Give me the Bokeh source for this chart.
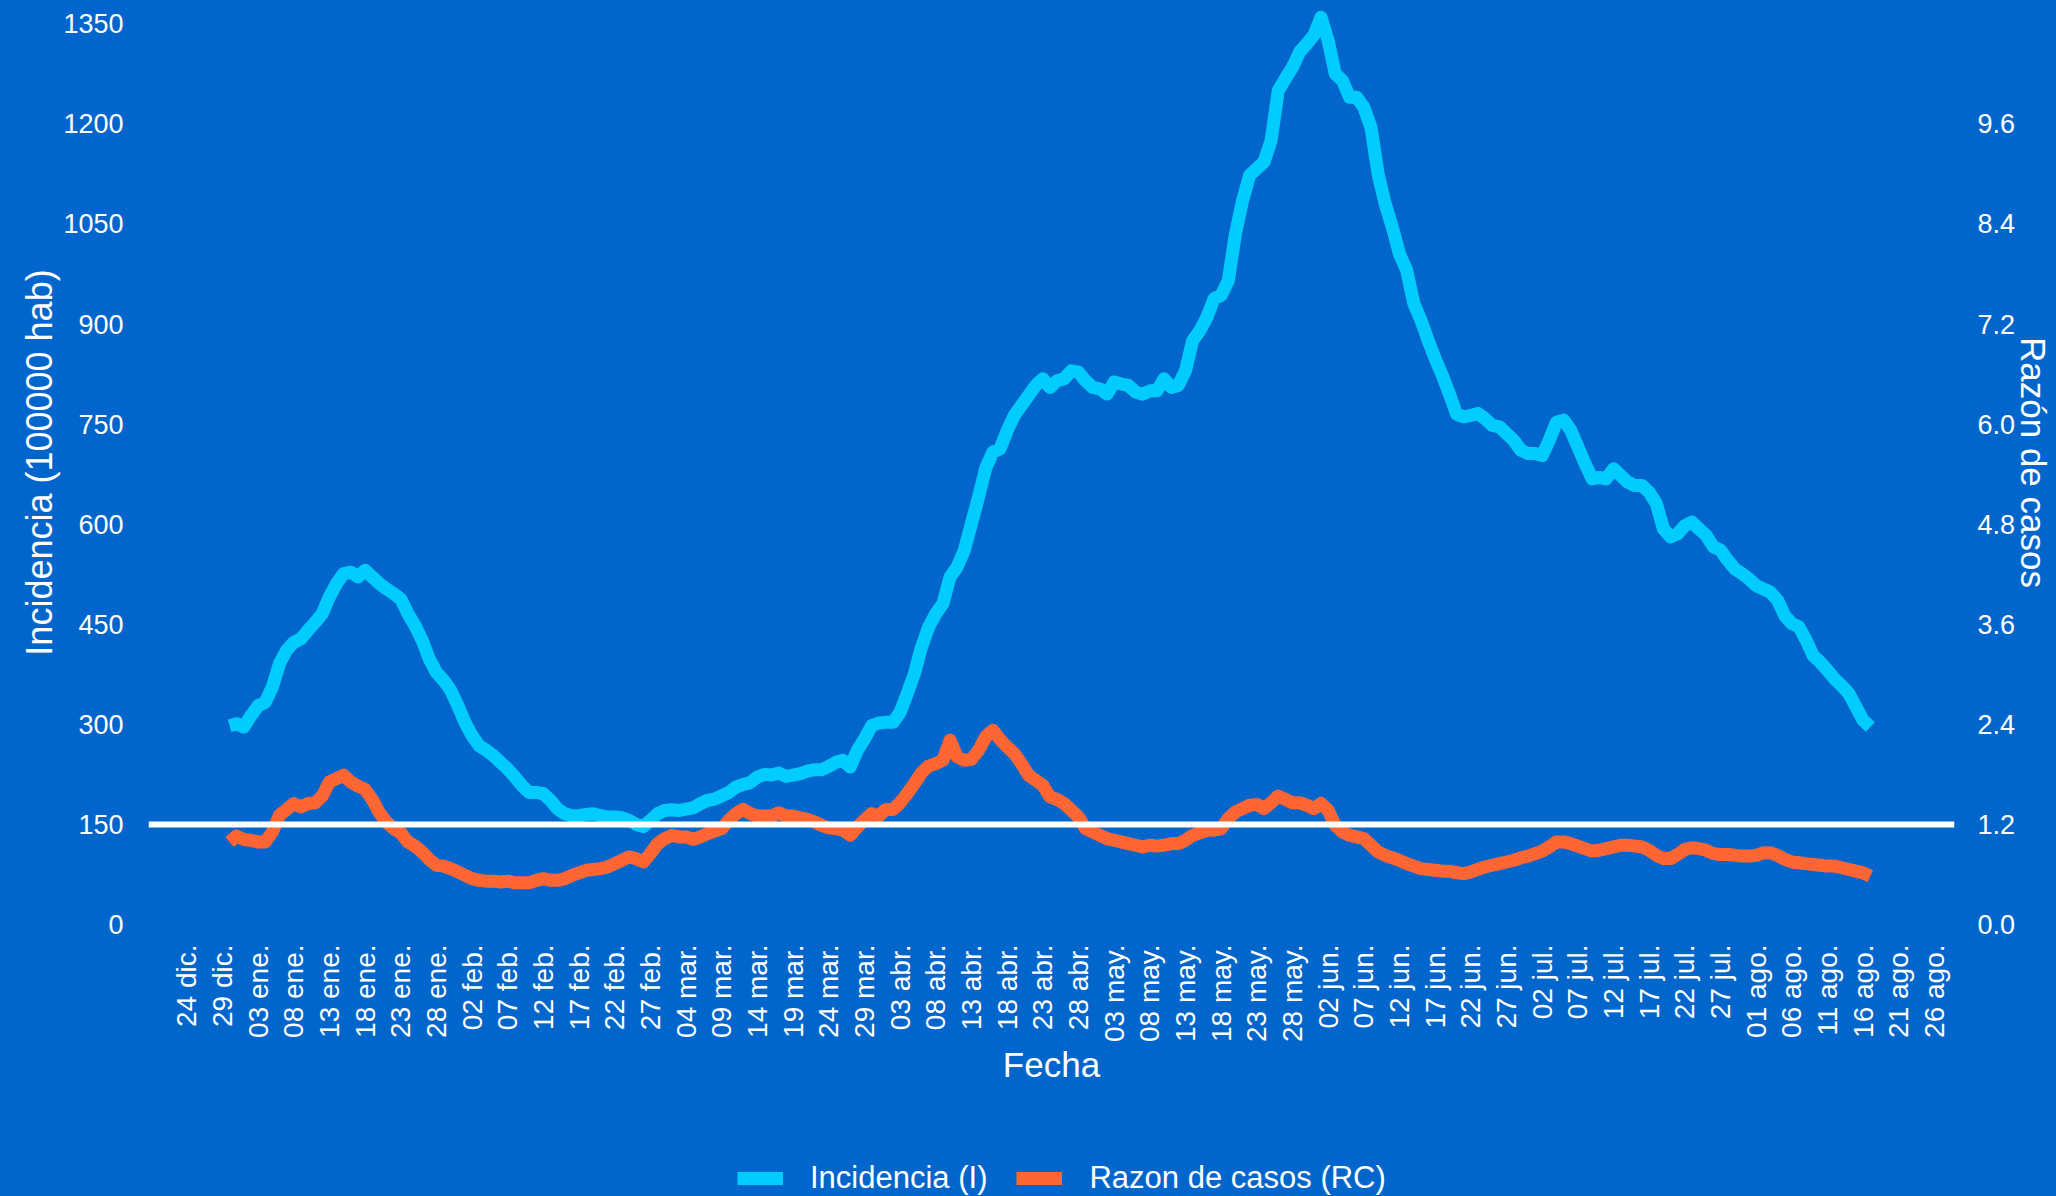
import math
import pandas as pd
from bokeh.plotting import figure
from bokeh.layouts import column
from bokeh.models import (Range1d, LinearAxis, FixedTicker, CustomJSTickFormatter,
                          PrintfTickFormatter, Span, Legend, LegendItem, ColumnDataSource)
from bokeh.embed import file_html
from bokeh.resources import INLINE

# ---------------- data ----------------
start_date = "2020-12-30"   # first daily value

incidencia = [
    298, 301, 296, 313, 328, 333, 356, 391, 411, 423,
    428, 441, 453, 466, 491, 511, 526, 528, 521, 531,
    521, 511, 503, 496, 488, 466, 448, 426, 398, 378,
    366, 351, 328, 303, 283, 268, 261, 253, 243, 233,
    221, 208, 198, 198, 196, 186, 173, 166, 163, 163,
    165, 166, 163, 161, 161, 160, 156, 150, 147, 156,
    166, 171, 172, 171, 173, 175, 181, 186, 188, 193,
    198, 206, 210, 213, 221, 225, 224, 227, 222, 224,
    226, 230, 232, 232, 237, 243, 246, 236, 261, 278,
    298, 302, 303, 303, 318, 346, 376, 416, 446, 466,
    481, 521, 536, 561, 601, 641, 684, 708, 713, 740,
    763, 778, 793, 808, 818, 805, 815, 818, 830, 828,
    815, 805, 803, 795, 813, 810, 808, 798, 795, 800,
    800, 818, 805, 808, 830, 875, 890, 910, 938, 943,
    965, 1035, 1085, 1123, 1133, 1143, 1175, 1250, 1268, 1285,
    1308, 1320, 1333, 1360, 1325, 1275, 1265, 1240, 1240, 1225,
    1195, 1125, 1080, 1045, 1005, 981, 931, 906, 876, 848,
    823, 795, 765, 761, 763, 766, 758, 748, 746, 736,
    726, 711, 706, 706, 703, 726, 753, 756, 741, 716,
    691, 668, 670, 668, 683, 673, 663, 658, 658, 648,
    631, 593, 581, 586, 598, 603, 593, 583, 566, 561,
    546, 533, 526, 518, 508, 503, 498, 486, 463, 451,
    446, 426, 403, 393, 381, 368, 358, 346, 326, 306,
    296,
]

razon_casos = [
    0.99, 1.06, 1.02, 1.01, 0.99, 0.99, 1.11, 1.31, 1.38, 1.45,
    1.41, 1.45, 1.46, 1.54, 1.71, 1.75, 1.79, 1.71, 1.66, 1.62,
    1.50, 1.34, 1.23, 1.15, 1.10, 0.99, 0.94, 0.87, 0.78, 0.71,
    0.70, 0.67, 0.63, 0.59, 0.55, 0.53, 0.52, 0.52, 0.51, 0.52,
    0.50, 0.50, 0.50, 0.53, 0.55, 0.53, 0.53, 0.55, 0.59, 0.62,
    0.65, 0.66, 0.67, 0.69, 0.73, 0.77, 0.81, 0.79, 0.75, 0.85,
    0.97, 1.03, 1.07, 1.05, 1.05, 1.02, 1.05, 1.09, 1.12, 1.15,
    1.25, 1.33, 1.38, 1.33, 1.30, 1.30, 1.30, 1.34, 1.30, 1.30,
    1.28, 1.26, 1.23, 1.19, 1.16, 1.15, 1.13, 1.07, 1.17, 1.25,
    1.33, 1.30, 1.38, 1.38, 1.46, 1.57, 1.69, 1.82, 1.90, 1.93,
    1.97, 2.21, 2.01, 1.97, 1.98, 2.09, 2.25, 2.33, 2.22, 2.13,
    2.05, 1.93, 1.79, 1.73, 1.67, 1.53, 1.50, 1.45, 1.37, 1.29,
    1.15, 1.11, 1.07, 1.03, 1.01, 0.99, 0.97, 0.95, 0.93, 0.95,
    0.94, 0.95, 0.97, 0.97, 1.01, 1.07, 1.10, 1.13, 1.13, 1.15,
    1.27, 1.35, 1.39, 1.43, 1.44, 1.39, 1.46, 1.54, 1.50, 1.46,
    1.46, 1.43, 1.39, 1.45, 1.37, 1.19, 1.11, 1.07, 1.05, 1.03,
    0.95, 0.87, 0.83, 0.80, 0.77, 0.73, 0.70, 0.67, 0.66, 0.65,
    0.64, 0.64, 0.62, 0.61, 0.63, 0.66, 0.69, 0.71, 0.73, 0.75,
    0.77, 0.80, 0.82, 0.85, 0.88, 0.93, 0.99, 0.99, 0.97, 0.94,
    0.91, 0.88, 0.89, 0.91, 0.93, 0.95, 0.95, 0.94, 0.93, 0.89,
    0.83, 0.79, 0.79, 0.84, 0.90, 0.92, 0.91, 0.89, 0.85, 0.84,
    0.84, 0.83, 0.82, 0.82, 0.83, 0.86, 0.86, 0.83, 0.78, 0.75,
    0.74, 0.73, 0.72, 0.71, 0.70, 0.70, 0.68, 0.66, 0.64, 0.62,
    0.58,
]

tick_start = "2020-12-24"   # x ticks every 5 days
tick_labels = [
    "24 dic.", "29 dic.", "03 ene.", "08 ene.", "13 ene.", "18 ene.", "23 ene.", "28 ene.",
    "02 feb.", "07 feb.", "12 feb.", "17 feb.", "22 feb.", "27 feb.",
    "04 mar.", "09 mar.", "14 mar.", "19 mar.", "24 mar.", "29 mar.",
    "03 abr.", "08 abr.", "13 abr.", "18 abr.", "23 abr.", "28 abr.",
    "03 may.", "08 may.", "13 may.", "18 may.", "23 may.", "28 may.",
    "02 jun.", "07 jun.", "12 jun.", "17 jun.", "22 jun.", "27 jun.",
    "02 jul.", "07 jul.", "12 jul.", "17 jul.", "22 jul.", "27 jul.",
    "01 ago.", "06 ago.", "11 ago.", "16 ago.", "21 ago.", "26 ago.",
]
left_ticks = [0, 150, 300, 450, 600, 750, 900, 1050, 1200, 1350]
right_ticks = [0.0, 1.2, 2.4, 3.6, 4.8, 6.0, 7.2, 8.4, 9.6]
umbral_incidencia = 150
rc_per_incidencia = 1.2 / 150   # right axis: 1.2 aligned with 150
legend_labels = ["Incidencia (I)", "Razon de casos (RC)"]

# ---------------- styling ----------------
BG = "#0066CC"
CYAN = "#00CCFF"
ORANGE = "#FF6633"
FONT = "Liberation Sans"
W = 2056
H_MAIN = 1140
H_LEG = 56

dates = pd.date_range(start_date, periods=len(incidencia), freq="D")
src = ColumnDataSource(dict(fecha=dates, inc=incidencia, rc=razon_casos))

tick_dates = pd.date_range(tick_start, periods=len(tick_labels), freq="5D")
tick_ms = [t.value / 1e6 for t in tick_dates]

y_top = 1385
p = figure(width=W, height=H_MAIN, x_axis_type="datetime",
           output_backend="svg", toolbar_location=None,
           x_range=Range1d(pd.Timestamp("2020-12-18 15:20"), pd.Timestamp("2021-08-28 19:10")),
           y_range=Range1d(0, y_top),
           min_border_left=148, min_border_right=102, min_border_top=0,
           min_border_bottom=H_MAIN - 924)
p.extra_y_ranges = {"rc": Range1d(0, y_top * rc_per_incidencia)}

p.background_fill_color = None
p.border_fill_color = BG
p.outline_line_color = None
p.xgrid.grid_line_color = None
p.ygrid.grid_line_color = None

line_kw = dict(line_width=13, line_join="round")
p.line("fecha", "inc", source=src, line_color=CYAN, **line_kw)
p.line("fecha", "rc", source=src, y_range_name="rc", line_color=ORANGE, **line_kw)

p.add_layout(Span(location=umbral_incidencia, dimension="width", line_color="white", line_width=6))

def style_axis(ax, tick_size, label_size):
    ax.axis_line_color = None
    ax.major_tick_line_color = None
    ax.minor_tick_line_color = None
    ax.major_label_text_color = "white"
    ax.major_label_text_font = FONT
    ax.major_label_text_font_size = tick_size
    ax.axis_label_text_color = "white"
    ax.axis_label_text_font = FONT
    ax.axis_label_text_font_size = label_size
    ax.axis_label_text_font_style = "normal"

xa = p.xaxis[0]
xa.ticker = FixedTicker(ticks=tick_ms, minor_ticks=[])
xa.formatter = CustomJSTickFormatter(args=dict(t0=tick_ms[0], labels=tick_labels), code="""
    const i = Math.round((tick - t0) / 432000000);
    return (i >= 0 && i < labels.length) ? labels[i] : "";
""")
style_axis(xa, "28px", "35px")
xa.major_label_orientation = math.pi / 2
xa.major_label_standoff = 14
xa.axis_label = "Fecha"
xa.axis_label_standoff = 0

ya = p.yaxis[0]
ya.ticker = FixedTicker(ticks=left_ticks, minor_ticks=[])
style_axis(ya, "27px", "36px")
ya.major_label_standoff = 19
ya.axis_label = "Incidencia (100000 hab)"
ya.axis_label_standoff = 0

yr = LinearAxis(y_range_name="rc", ticker=FixedTicker(ticks=right_ticks, minor_ticks=[]),
                formatter=PrintfTickFormatter(format="%.1f"))
style_axis(yr, "27px", "35px")
yr.major_label_standoff = 17
yr.axis_label = "Razón de casos"
yr.axis_label_standoff = -4
p.add_layout(yr, "right")

# ---------------- legend strip (below the chart) ----------------
pl = figure(width=W, height=H_LEG, output_backend="svg", toolbar_location=None,
            x_range=Range1d(0, 1), y_range=Range1d(0, 1),
            min_border=0, x_axis_location=None, y_axis_location=None)
pl.background_fill_color = None
pl.border_fill_color = BG
pl.outline_line_color = None
pl.xgrid.grid_line_color = None
pl.ygrid.grid_line_color = None
# legend keys only (drawn outside the visible range)
k_inc = pl.line(x=[-3, -2], y=[-3, -2], line_color=CYAN, line_width=13)
k_rc = pl.line(x=[-3, -2], y=[-3, -2], line_color=ORANGE, line_width=13)

legend = Legend(items=[LegendItem(label=legend_labels[0], renderers=[k_inc]),
                       LegendItem(label=legend_labels[1], renderers=[k_rc])],
                location=(589, 0), orientation="horizontal",
                glyph_width=46, glyph_height=36, label_height=36,
                label_standoff=27, spacing=29, padding=0, margin=0,
                background_fill_alpha=0, border_line_color=None,
                label_text_font=FONT, label_text_font_size="31px",
                label_text_color="white")
pl.add_layout(legend)

layout = column(p, pl, spacing=0, styles={"background-color": BG})
open("out.html", "w").write(file_html(layout, INLINE))
